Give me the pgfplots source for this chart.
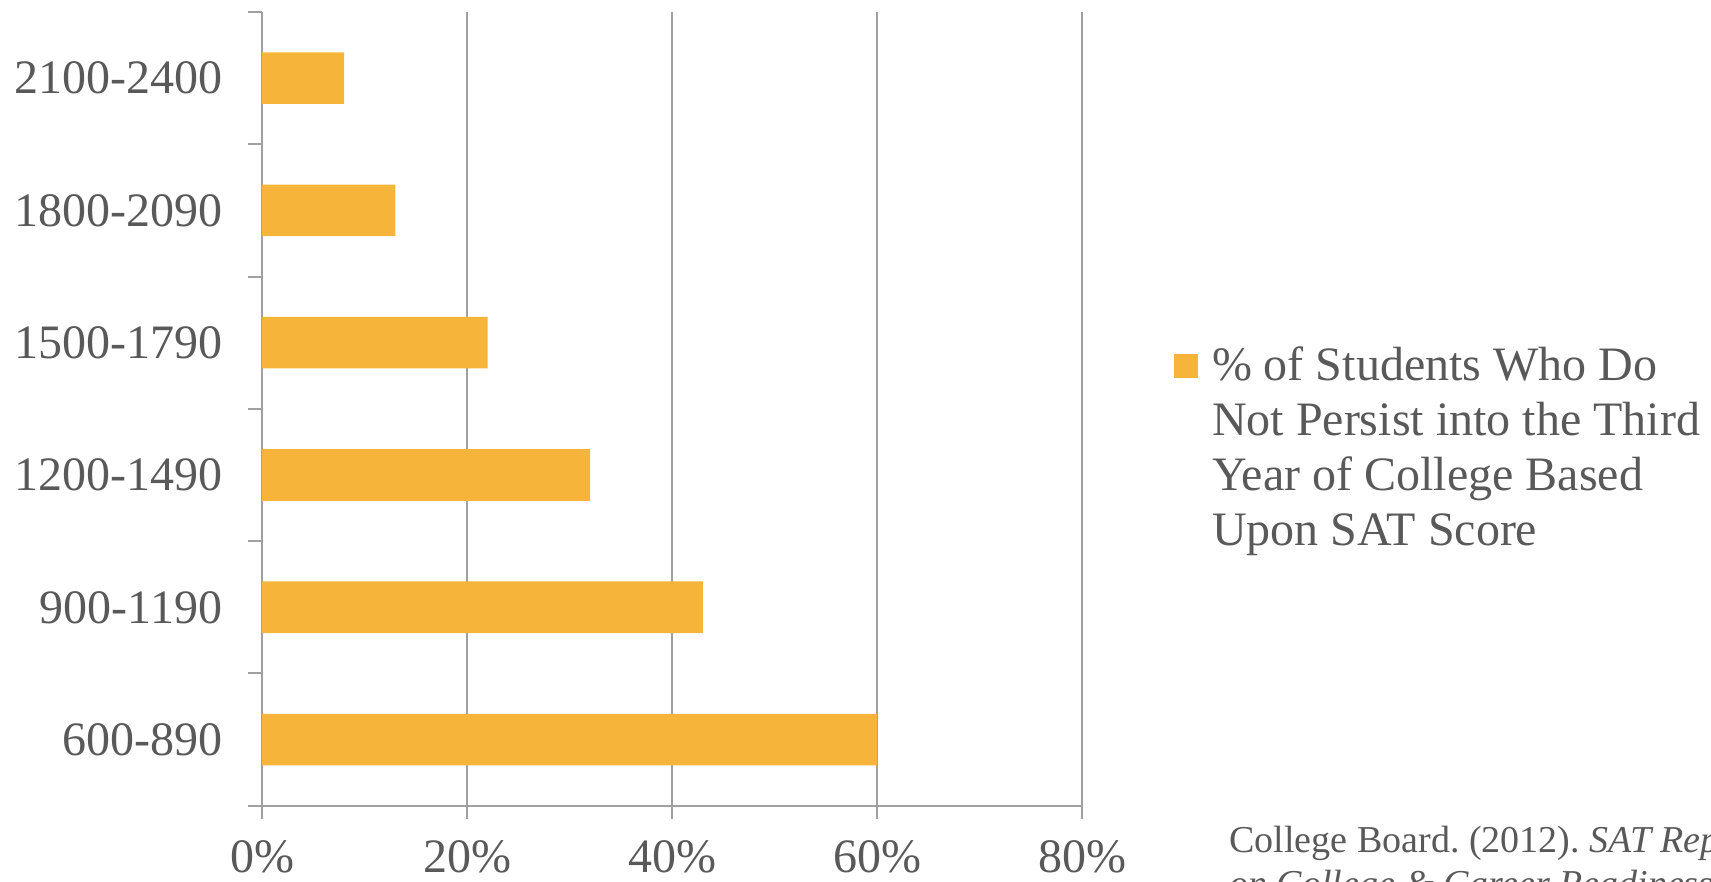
\documentclass[border=0pt]{standalone}
\usepackage{pgfplots}
\pgfplotsset{compat=1.18}
\usepackage{fontspec}
\setmainfont{Liberation Serif}

\definecolor{barorange}{HTML}{F6B43B}
\definecolor{txtgray}{HTML}{595959}
\definecolor{axgray}{HTML}{A0A0A0}

% plain interword spaces, as in the original
\newcommand\plainspaces{\frenchspacing\spaceskip=0.25em\relax\xspaceskip=0.25em\relax}

\begin{document}
\begin{tikzpicture}
\path[use as bounding box] (0,0) rectangle (855.5bp,441bp);
\clip (0,0) rectangle (855.5bp,441bp);
\begin{axis}[
    at={(131bp,38.15bp)}, anchor=south west,
    scale only axis,
    width=410bp, height=396.85bp,
    xmin=0, xmax=80,
    ymin=-0.5, ymax=5.5,
    axis lines*=left,
    axis line style={axgray, line width=1bp},
    tick style={axgray, line width=1bp},
    tick align=outside,
    major tick length=6.75bp,
    xtick={0,20,40,60,80},
    xticklabels={0\%,20\%,40\%,60\%,80\%},
    ytick={-0.5,0.5,1.5,2.5,3.5,4.5,5.5},
    y tick label as interval,
    yticklabels={600-890,900-1190,1200-1490,1500-1790,1800-2090,2100-2400},
    xmajorgrids,
    grid style={axgray, line width=1bp},
    tick label style={font=\fontsize{24bp}{28bp}\selectfont, text=txtgray},
    yticklabel style={anchor=east, inner sep=0pt, xshift=-13bp},
    xticklabel style={anchor=base, inner sep=0pt, yshift=-26.8bp},
    legend style={
        draw=none, fill=none,
        at={(1.1122,0.5779)}, anchor=north west,
        inner sep=0pt, outer sep=0pt,
        nodes={inner sep=0pt, text=txtgray, anchor=base west,
               text width=290bp,
               font=\fontsize{24bp}{27.5bp}\selectfont},
        /tikz/every odd column/.append style={column sep=7bp},
    },
    legend image code/.code={\fill[#1] (0bp,1.5bp) rectangle (12bp,13.5bp);},
]
\addplot[xbar, fill=barorange, draw=none, bar width=0.39]
    coordinates {(60,0) (43,1) (32,2) (22,3) (13,4) (8,5)};
\addlegendentry{\plainspaces \% of Students Who Do\\Not Persist into the Third\\Year of College Based\\Upon SAT Score}
\end{axis}
\node[anchor=base west, text width=400bp, inner sep=0pt, text=txtgray,
      font=\fontsize{19bp}{22bp}\selectfont] at (614.5bp,15bp)
    {\plainspaces College Board. (2012). \textit{SAT Report}\\\textit{on College \& Career Readiness}.};
\end{tikzpicture}
\end{document}
